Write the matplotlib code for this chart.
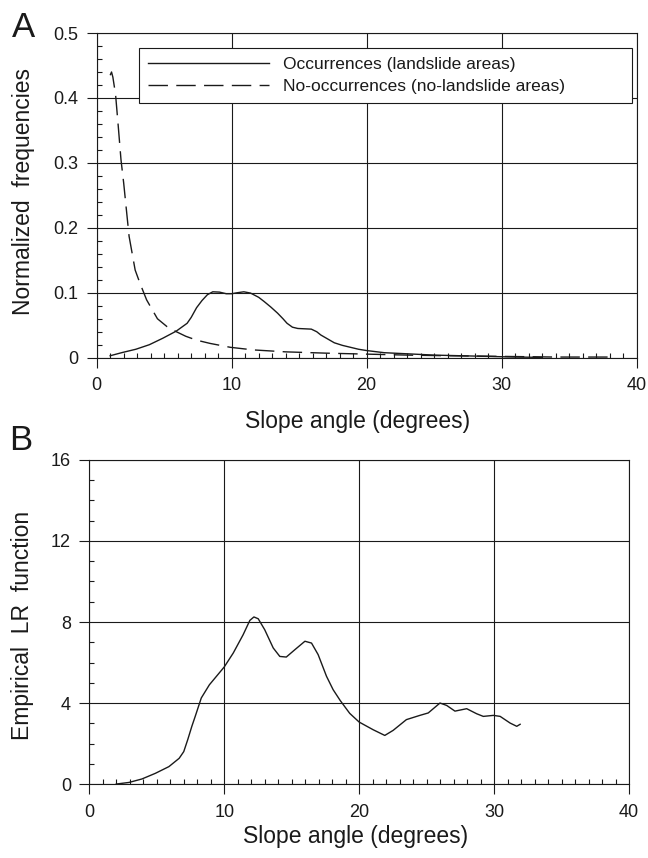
import matplotlib
matplotlib.use("Agg")
import matplotlib.pyplot as plt
from matplotlib.ticker import MultipleLocator

plt.rcParams['font.family'] = ['Liberation Sans', 'DejaVu Sans']

# ---------------- data ----------------
# Panel A: normalized frequencies vs slope angle
occ_x = [1.0, 1.9, 2.9, 3.9, 4.9, 5.9, 6.7, 7.0, 7.4, 7.8, 8.2, 8.6, 9.1, 9.6, 10.0,
         10.4, 10.9, 11.4, 12.0, 12.4, 12.9, 13.4, 13.8, 14.1, 14.5, 14.9, 15.4, 15.9,
         16.3, 16.6, 17.1, 17.6, 18.2, 18.8, 19.4, 20.0, 21.3, 23.3, 25.0, 27.0, 29.0,
         31.0, 33.0]
occ_y = [0.003, 0.008, 0.013, 0.020, 0.030, 0.041, 0.053, 0.062, 0.077, 0.088, 0.097,
         0.1015, 0.101, 0.0985, 0.0985, 0.100, 0.1015, 0.0995, 0.093, 0.0866, 0.078,
         0.0686, 0.060, 0.053, 0.047, 0.045, 0.0445, 0.044, 0.040, 0.035, 0.029, 0.023,
         0.019, 0.016, 0.013, 0.011, 0.0077, 0.0057, 0.004, 0.003, 0.002, 0.001, 0.0005]

noocc_x = [1.0, 1.1, 1.2, 1.4, 1.6, 1.8, 2.0, 2.2, 2.4, 2.85, 3.2, 3.7, 4.5, 5.2, 5.9,
           6.6, 7.4, 8.4, 9.9, 11.6, 14.0, 17.0, 20.0, 23.0, 26.0, 30.0, 34.0, 38.0]
noocc_y = [0.435, 0.440, 0.432, 0.405, 0.356, 0.305, 0.269, 0.228, 0.187, 0.135, 0.115,
           0.089, 0.060, 0.048, 0.040, 0.033, 0.027, 0.022, 0.016, 0.012, 0.009, 0.007,
           0.0055, 0.004, 0.003, 0.002, 0.001, 0.001]

legend_labels = ["Occurrences (landslide areas)", "No-occurrences (no-landslide areas)"]

# Panel B: empirical likelihood ratio function
lr_x = [2.0, 2.95, 3.9, 4.9, 5.9, 6.66, 7.0, 7.3, 7.6, 7.85, 8.3, 8.9, 9.5, 10.0, 10.67,
        11.4, 11.9, 12.2, 12.52, 13.0, 13.63, 14.12, 14.6, 15.23, 15.98, 16.47, 16.96,
        17.58, 18.07, 18.6, 19.3, 20.0, 21.04, 21.9, 22.52, 23.5, 24.5, 25.12, 25.99,
        26.49, 27.1, 27.97, 28.71, 29.2, 29.95, 30.45, 31.19, 31.68, 31.93]
lr_y = [0.0, 0.08, 0.25, 0.53, 0.86, 1.27, 1.6, 2.2, 2.85, 3.34, 4.25, 4.9, 5.38, 5.78,
        6.47, 7.37, 8.08, 8.25, 8.16, 7.62, 6.72, 6.30, 6.27, 6.63, 7.05, 6.96, 6.39,
        5.32, 4.66, 4.12, 3.49, 3.06, 2.68, 2.40, 2.65, 3.18, 3.39, 3.51, 4.00, 3.88,
        3.60, 3.72, 3.47, 3.34, 3.39, 3.34, 3.01, 2.85, 2.95]

x_ticks = [0, 10, 20, 30, 40]
a_yticks = [0, 0.1, 0.2, 0.3, 0.4, 0.5]
a_yticklabels = ["0", "0.1", "0.2", "0.3", "0.4", "0.5"]
b_yticks = [0, 4, 8, 12, 16]
b_yticklabels = ["0", "4", "8", "12", "16"]

# ---------------- figure ----------------
INK = '#1a1a1a'
fig = plt.figure(figsize=(6.48, 8.58), dpi=100)
axA = fig.add_axes([0.1492, 0.5831, 0.8333, 0.3784])
axB = fig.add_axes([0.1378, 0.0862, 0.8329, 0.3777])


def style(ax, yticks, ylabels, yminor):
    ax.set_xlim(0, 40)
    ax.set_xticks(x_ticks)
    ax.set_xticklabels([str(v) for v in x_ticks])
    ax.set_ylim(yticks[0], yticks[-1])
    ax.set_yticks(yticks)
    ax.set_yticklabels(ylabels)
    ax.xaxis.set_minor_locator(MultipleLocator(1))
    ax.yaxis.set_minor_locator(MultipleLocator(yminor))
    ax.tick_params(which='major', direction='out', length=7.2, width=0.8,
                   color=INK, labelsize=13, labelcolor=INK)
    ax.tick_params(axis='x', which='major', pad=7)
    ax.tick_params(axis='y', which='major', pad=6)
    ax.tick_params(which='minor', direction='in', length=3.8, width=0.8, color=INK)
    ax.grid(which='major', color=INK, lw=0.8)
    ax.set_axisbelow(False)
    for s in ax.spines.values():
        s.set_color(INK)
        s.set_linewidth(0.8)


style(axA, a_yticks, a_yticklabels, 0.02)
style(axB, b_yticks, b_yticklabels, 1)

l1, = axA.plot(occ_x, occ_y, color=INK, lw=1.0, solid_joinstyle='round')
l2, = axA.plot(noocc_x, noocc_y, color=INK, lw=1.0, dashes=(14, 6))
leg = axA.legend([l1, l2], legend_labels, loc='upper left',
                 bbox_to_anchor=(0.0783, 0.7628, 0.913, 0.191), mode='expand',
                 borderaxespad=0, fontsize=12.5, handlelength=7.0, handletextpad=0.8,
                 borderpad=0.5, labelspacing=0.4, fancybox=False, framealpha=1,
                 edgecolor=INK)
leg.get_frame().set_linewidth(0.8)
for t in leg.get_texts():
    t.set_color(INK)

axB.plot(lr_x, lr_y, color=INK, lw=1.0, solid_joinstyle='round')

# labels
fig.text(0.037, 0.777, "Normalized  frequencies", rotation=90, ha='center', va='center',
         fontsize=16.5, color=INK)
fig.text(0.5525, 0.509, "Slope angle (degrees)", ha='center', va='center',
         fontsize=16.5, color=INK)
fig.text(0.034, 0.2716, "Empirical  LR  function", rotation=90, ha='center', va='center',
         fontsize=16.5, color=INK)
fig.text(0.549, 0.0256, "Slope angle (degrees)", ha='center', va='center',
         fontsize=16.5, color=INK)
fig.text(0.018, 0.9569, "A", ha='left', va='baseline', fontsize=25, color=INK)
fig.text(0.014, 0.4755, "B", ha='left', va='baseline', fontsize=25, color=INK)

fig.savefig("out.png", dpi=100)
